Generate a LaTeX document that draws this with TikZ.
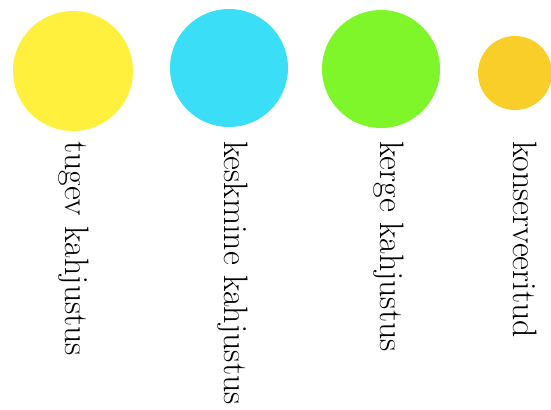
\documentclass[tikz,border=0pt]{standalone}
\usetikzlibrary{positioning}

\begin{document}
\begin{tikzpicture}[x=1bp,y=-1bp,font=\fontsize{34}{40}\selectfont]
\definecolor{strong}{RGB}{255,240,62}
\definecolor{medium}{RGB}{58,222,246}
\definecolor{light}{RGB}{126,246,42}
\definecolor{kept}{RGB}{250,206,40}
\tikzset{dot/.style={circle,inner sep=0pt,draw=none},
 tag/.style={rotate=-90,anchor=base west,inner sep=0pt}}
\useasboundingbox (0,0) rectangle (551,409);
% colour dots, the last one is smaller
\node[dot,fill=strong,minimum size=120bp] (tugev) at (73,71) {};
\node[dot,fill=medium,minimum size=118bp] (keskmine) at (229,68) {};
\node[dot,fill=light,minimum size=118bp] (kerge) at (381,69) {};
\node[dot,fill=kept,minimum size=74bp] (konserv) at (515,73) {};
% labels read from top to bottom
\node[tag] (tugevtxt) at (65,141) {tugev kahjustus};
\node[tag] (keskminetxt) at (224,141) {keskmine kahjustus};
\node[tag] (kergetxt) at (380,141) {kerge kahjustus};
\node[tag] (konservtxt) at (513,141) {konserveeritud};
\end{tikzpicture}
\end{document}
